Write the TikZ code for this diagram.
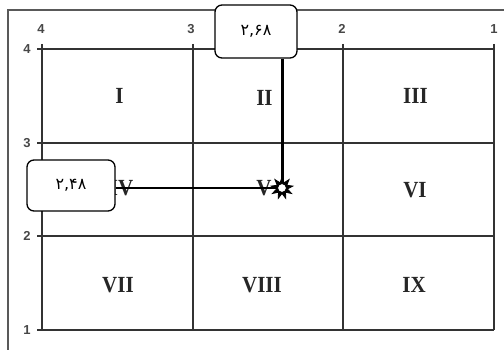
\documentclass[tikz,border=0pt]{standalone}
\usepackage{fontspec}
\setmainfont{Liberation Serif}
\newfontfamily\axfont{Liberation Sans}
\newfontfamily\fafont{DejaVu Sans}
\usetikzlibrary{shapes.geometric}
\newcommand{\tallrm}[1]{\scalebox{1}[1.1]{#1}}
\begin{document}
\begin{tikzpicture}[x=1pt,y=-1pt,
  grid/.style={draw=black!80,line width=1.4pt},
  frame/.style={draw=black!65,line width=1.1pt},
  axlab/.style={font=\fontsize{13}{15}\selectfont\axfont\bfseries,text=black!72,inner sep=0pt},
  roman/.style={font=\bfseries\fontsize{21}{23}\selectfont,text=black!85,inner sep=0pt},
  valbox/.style={draw=black,line width=1.3pt,rounded corners=7pt,fill=white,font=\fafont\fontsize{16}{18}\selectfont},
  marker/.style={star,star points=9,star point ratio=2.0,minimum size=22pt,inner sep=0pt,draw=black,line width=0.8pt,fill=black},
  markerdot/.style={circle,minimum size=9pt,inner sep=0pt,draw=black,line width=1pt,fill=white}]
\useasboundingbox (0,0) rectangle (504,350);
% outer frame
\draw[frame] (8,350) -- (8,10) -- (504,10);
% grid
\foreach \x in {42,193,343,494} \draw[grid] (\x,49) -- (\x,330);
\foreach \y in {49,143,236,330} \draw[grid] (42,\y) -- (494,\y);
% ticks
\foreach \y in {49,143,236,330} \draw[grid] (37,\y) -- (42,\y);
\foreach \x in {42,193,343,494} \draw[grid] (\x,44) -- (\x,49);
% axis labels
\node[axlab] (t4) at (41,29) {4};
\node[axlab] (t3) at (191,29) {3};
\node[axlab] (t2) at (342,29) {2};
\node[axlab] (t1) at (494,29) {1};
\node[axlab] (l4) at (27,49) {4};
\node[axlab] (l3) at (27,143) {3};
\node[axlab] (l2) at (27,236) {2};
\node[axlab] (l1) at (27,330) {1};
% cell labels
\node[roman] (c1) at (119.5,96) {\tallrm{I}};
\node[roman] (c2) at (264.5,98) {\tallrm{II}};
\node[roman] (c3) at (415.5,96) {\tallrm{III}};
\node[roman] (c4) at (121.5,188) {\tallrm{IV}};
\node[roman] (c5) at (264,188) {\tallrm{V}};
\node[roman] (c6) at (415,190) {\tallrm{VI}};
\node[roman] (c7) at (118,285) {\tallrm{VII}};
\node[roman] (c8) at (262,285) {\tallrm{VIII}};
\node[roman] (c9) at (414,285) {\tallrm{IX}};
% value boxes
\node[valbox,minimum width=82pt,minimum height=53pt] (bx) at (256,31.5) {۲,۶۸};
\node[valbox,minimum width=88pt,minimum height=51pt] (by) at (71,185.5) {۲,۴۸};
% point
\coordinate (p) at (282,188);
\draw[line width=1.6pt] (by.east |- p) -- (p);
\draw[line width=3pt] (bx.south -| p) -- (p);
\node[marker] (pt) at (p) {};
\node[markerdot] (ptc) at (p) {};
\end{tikzpicture}
\end{document}
